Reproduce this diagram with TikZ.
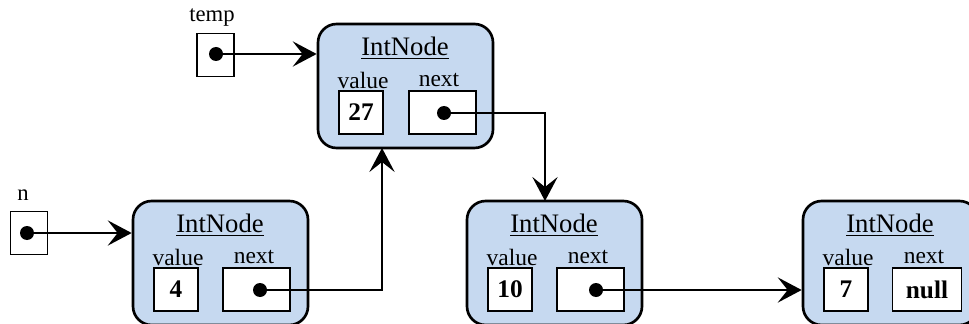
\documentclass[tikz,border=0pt]{standalone}
\usepackage{fontspec}
\setmainfont{Liberation Serif}
\usetikzlibrary{arrows.meta}
\definecolor{nodefill}{RGB}{198,217,240}
\tikzset{
  intnode/.style={draw, line width=2pt, fill=nodefill, rounded corners=14pt,
    minimum width=131.25pt, minimum height=93pt, inner sep=0pt},
  title/.style={inner sep=0pt, font=\fontsize{20}{24}\selectfont},
  lbl/.style={inner sep=0pt, font=\fontsize{17.6}{20}\selectfont},
  valbox/.style={draw, line width=1.1pt, fill=white, minimum width=33pt, minimum height=32.25pt,
    inner sep=0pt, font=\fontsize{19}{22}\selectfont\bfseries},
  ptrbox/.style={draw, line width=1.1pt, fill=white, minimum width=50.25pt, minimum height=32.25pt,
    inner sep=0pt, font=\fontsize{19}{22}\selectfont\bfseries},
  varbox/.style={draw, line width=1.1pt, fill=white, minimum width=28pt, minimum height=32pt, inner sep=0pt},
  dot/.style={circle, fill=black, minimum size=10.5pt, inner sep=0pt},
  vname/.style={inner sep=0pt, font=\fontsize{17}{20}\selectfont},
  link/.style={line width=1.2pt, -{Stealth[length=18pt,width=19pt,inset=7.5pt]}}
}
\newcommand\mkintnode[4]{%
  \node[intnode] (#1) at (#2+87.5,#3+62) {};
  \node[title] (#1t) at (#2+87,#3+24) {\underline{IntNode}};
  \node[lbl] (#1vl) at (#2+45,#3+56) {value};
  \node[lbl] (#1nl) at (#2+121,#3+56) {next};
  \node[valbox] (#1v) at (#2+43,#3+88.5) {#4};
}
\begin{document}
\begin{tikzpicture}[x=0.75pt,y=-0.75pt]
\useasboundingbox (0,0) rectangle (969,324);
% variables
\node[vname] (tempname) at (212,18) {temp};
\node[varbox] (tempbox) at (215.5,55) {};
\node[dot] (tempdot) at (216,54) {};
\node[vname] (nname) at (23,195) {n};
\node[varbox] (nbox) at (29,233) {};
\node[dot] (ndot) at (27,233) {};
% list nodes
\mkintnode{A}{318}{24}{27}
\node[ptrbox] (An) at (318+124.5,112.5) {};
\node[dot] (Ad) at (318+126,113) {};
\mkintnode{B}{133}{201}{4}
\node[ptrbox] (Bn) at (133+123.5,289.5) {};
\node[dot] (Bd) at (133+127,290) {};
\mkintnode{C}{467}{201}{10}
\node[ptrbox] (Cn) at (467+123.5,289.5) {};
\node[dot] (Cd) at (467+129,290) {};
\mkintnode{D}{803}{201}{7}
\node[ptrbox, minimum width=52pt] (Dn) at (803+124,289.5) {null};
% connectors
\coordinate (Ain) at (382,148);
\coordinate (Cin) at (545,201);
\draw[link] (tempdot.center) -- (tempdot -| A.west);
\draw[link] (ndot.center) -- (ndot -| B.west);
\draw[link] (Bd.center) -| (Ain);
\draw[link] (Ad.center) -| (Cin);
\draw[link] (Cd.center) -- (Cd -| D.west);
\end{tikzpicture}
\end{document}
